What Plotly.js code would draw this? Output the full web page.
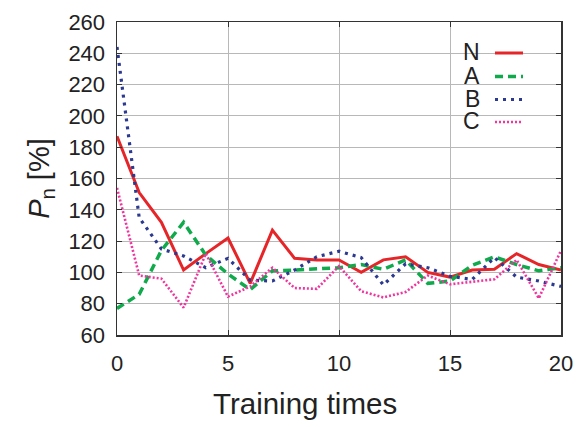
<!DOCTYPE html>
<html>
<head>
<meta charset="utf-8">
<script src="https://cdn.plot.ly/plotly-3.0.1.min.js"></script>
<style>html,body{margin:0;padding:0;background:#fff;}#chart{width:587px;height:427px;}</style>
</head>
<body>
<div id="chart"></div>
<script>
const trainingTimes = [0,1,2,3,4,5,6,7,8,9,10,11,12,13,14,15,16,17,18,19,20];
const seriesNames = ["N","A","B","C"];
const valuesN = [187,151,132,101.5,112,122,93,127,109,108,108,100,108,110,100,97,101.5,102,112,105,101.5];
const valuesA = [77,86,114,132,111,99,89,101,101.5,102.5,103,105,102,108,93,94.5,104.5,110,105,101,103];
const valuesB = [244,135,115,110.5,103,109,95,94.5,101.5,110,113.5,109.5,92,105.5,103,97.5,95.5,109.5,97,94.5,91];
const valuesC = [154,98,96,77.5,112,84.5,91,103,90,89.5,104,88,84,87.5,98,92.4,94,95.6,108,83.5,114];
const yTicks = [60,80,100,120,140,160,180,200,220,240,260];
const xTicks = [0,5,10,15,20];

const FONT = "Liberation Sans, Arial, Helvetica, sans-serif";
const styles = [
  {color:"#e62528", width:3, dash:"solid"},
  {color:"#10a94c", width:3.5, dash:"8px,5px"},
  {color:"#2b3990", width:3.2, dash:"3px,5px"},
  {color:"#f0359f", width:2.6, dash:"2px,2px"}
];
const allValues = [valuesN, valuesA, valuesB, valuesC];
const traces = allValues.map((v,i)=>({
  x: trainingTimes, y: v, type:"scatter", mode:"lines",
  name: seriesNames[i], line: {color: styles[i].color, width: styles[i].width, dash: styles[i].dash},
  hoverinfo: "skip", showlegend:false
}));

// key built in paper coordinates: label text + sample line
const px2x = p => (p-117)/444;
const py2y = p => 1-(p-22)/313;
const legendRowsY = [52, 75.5, 98.5, 121];
const annotations = seriesNames.map((n,i)=>({
  xref:"paper", yref:"paper", x:px2x(481), y:py2y(legendRowsY[i]),
  xanchor:"right", yanchor:"middle", text:n, showarrow:false,
  height:20, valign:"middle", borderpad:0,
  font:{family:FONT, size:23, color:"#222"}
}));
annotations.push({
  xref:"paper", yref:"paper", x:px2x(305), y:py2y(403),
  xanchor:"center", yanchor:"middle", text:"Training times", showarrow:false,
  font:{family:FONT, size:29.5, color:"#222"}
});
const shapes = seriesNames.map((n,i)=>({
  type:"line", xref:"paper", yref:"paper",
  x0:px2x(495), x1:px2x(523), y0:py2y(legendRowsY[i]+1), y1:py2y(legendRowsY[i]+1),
  line:{color:styles[i].color, width:styles[i].width, dash:styles[i].dash}
}));

const axisCommon = {
  showline:true, linecolor:"#333", linewidth:1.5, mirror:"ticks",
  ticks:"inside", ticklen:5, tickwidth:1, tickcolor:"#333",
  showgrid:true, gridcolor:"#b8b8b8", gridwidth:1, zeroline:false,
  tickfont:{family:FONT, size:22, color:"#222"}
};
const layout = {
  width:587, height:427,
  margin:{l:117, r:26, t:22, b:92},
  paper_bgcolor:"#fff", plot_bgcolor:"#fff",
  showlegend:false,
  xaxis: Object.assign({}, axisCommon, {range:[0,20], tickvals:xTicks, ticktext:xTicks.map(String), ticklabelstandoff:8}),
  yaxis: Object.assign({}, axisCommon, {range:[60,260], tickvals:yTicks, ticktext:yTicks.map(String), ticklabelstandoff:6,
    title:{text:"<i>P</i><sub>n</sub> [%]", font:{family:FONT, size:29, color:"#222"}, standoff:10}}),
  annotations: annotations,
  shapes: shapes
};
Plotly.newPlot("chart", traces, layout, {displayModeBar:false, staticPlot:true});
</script>
</body>
</html>
